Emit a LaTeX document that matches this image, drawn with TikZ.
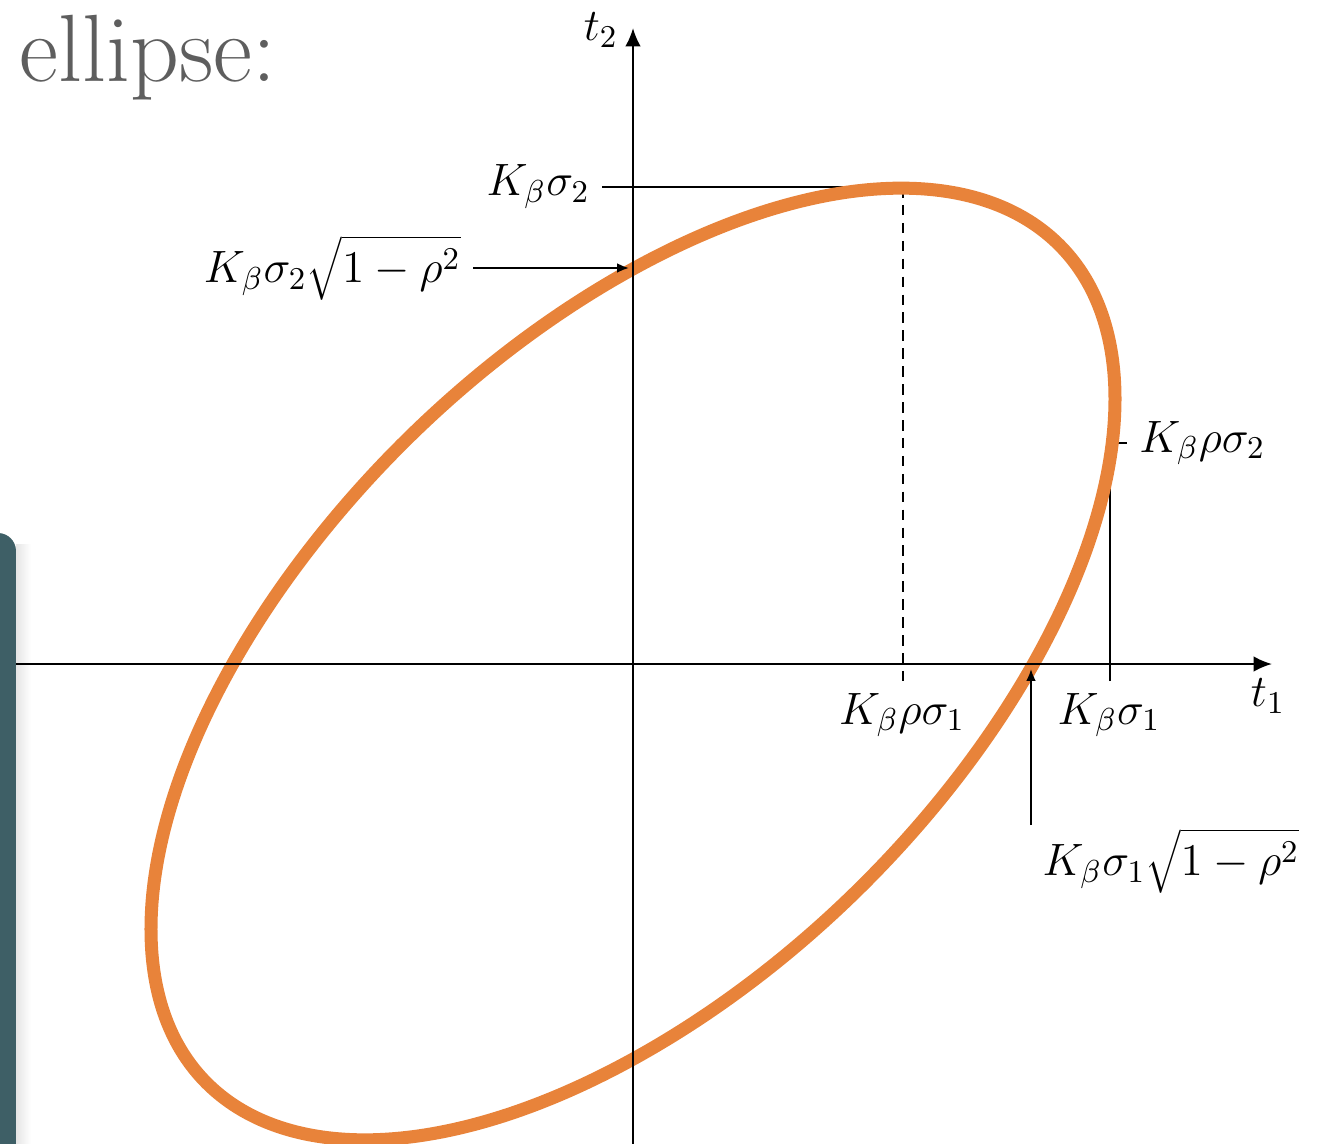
\RequirePackage{fix-cm}
\documentclass[tikz,border=0pt]{standalone}
\usetikzlibrary{arrows.meta}

\definecolor{ellipseOrange}{HTML}{E8833A}
\definecolor{slideTeal}{HTML}{3E5F66}
\definecolor{slideGrey}{HTML}{5E5E5E}

\begin{document}
\begin{tikzpicture}[font=\fontsize{12.9}{15}\selectfont,
  axis/.style={line width=0.6pt,-{Latex[length=5.2pt,width=4.4pt]}},
  guide/.style={line width=0.6pt},
  pointer/.style={line width=0.6pt,-{Latex[length=3.4pt,width=2.8pt]}}]
  \useasboundingbox (-6.33,-4.79) rectangle (6.84,6.64);

  \node[anchor=base west,inner sep=0pt,text=slideGrey,font=\fontsize{27.2}{32}\selectfont]
    (title) at (-6.14,5.82) {ellipse:};

  \coordinate (top) at (2.70,4.77);
  \coordinate (rs1) at (2.70,-0.17);
  \coordinate (s1) at (4.77,-0.17);
  \coordinate (s1up) at (4.77,1.80);
  \coordinate (rs2) at (4.80,2.21);
  \coordinate (cross2) at (-0.04,3.96);
  \coordinate (tail1) at (3.98,-1.61);
  \coordinate (cross1) at (3.98,-0.05);

  \node[anchor=east] (ks2) at (-0.31,4.77) {$K_\beta\sigma_2$};
  \node[anchor=east] (ks2r) at (-1.60,3.96) {$K_\beta\sigma_2\sqrt{1-\rho^2}$};
  \node[anchor=west] (krs2) at (4.94,2.21) {$K_\beta\rho\sigma_2$};
  \node (krs1) at (2.69,-0.51) {$K_\beta\rho\sigma_1$};
  \node (ks1) at (4.76,-0.51) {$K_\beta\sigma_1$};
  \node (ks1r) at (5.38,-1.97) {$K_\beta\sigma_1\sqrt{1-\rho^2}$};

  \draw[guide] (ks2) -- (top);
  \draw[guide,dash pattern=on 3pt off 2.1pt] (top) -- (rs1);
  \draw[guide] (s1) -- (s1up);
  \draw[guide] (rs2) -- (krs2);

  \shade[left color=black!10,right color=white] (-6.17,-4.85) rectangle (-6.02,1.20);

  \draw[ellipseOrange,line width=3.7pt,cm={4.82,2.651,0,3.951,(0,0)}] (0,0) circle (1);

  % axes
  \coordinate (xstart) at (-6.45,0);
  \coordinate (xend) at (6.39,0);
  \coordinate (ystart) at (0,-4.85);
  \coordinate (yend) at (0,6.36);
  \draw[axis] (xstart) -- (xend);
  \draw[axis] (ystart) -- (yend);
  \node (t1) at (6.35,-0.32) {$t_1$};
  \node (t2) at (-0.32,6.34) {$t_2$};

  \draw[pointer] (ks2r) -- (cross2);
  \draw[pointer] (tail1) -- (cross1);

  \fill[slideTeal,rounded corners=0.18cm] (-6.70,-5.10) rectangle (-6.17,1.31);
\end{tikzpicture}
\end{document}
